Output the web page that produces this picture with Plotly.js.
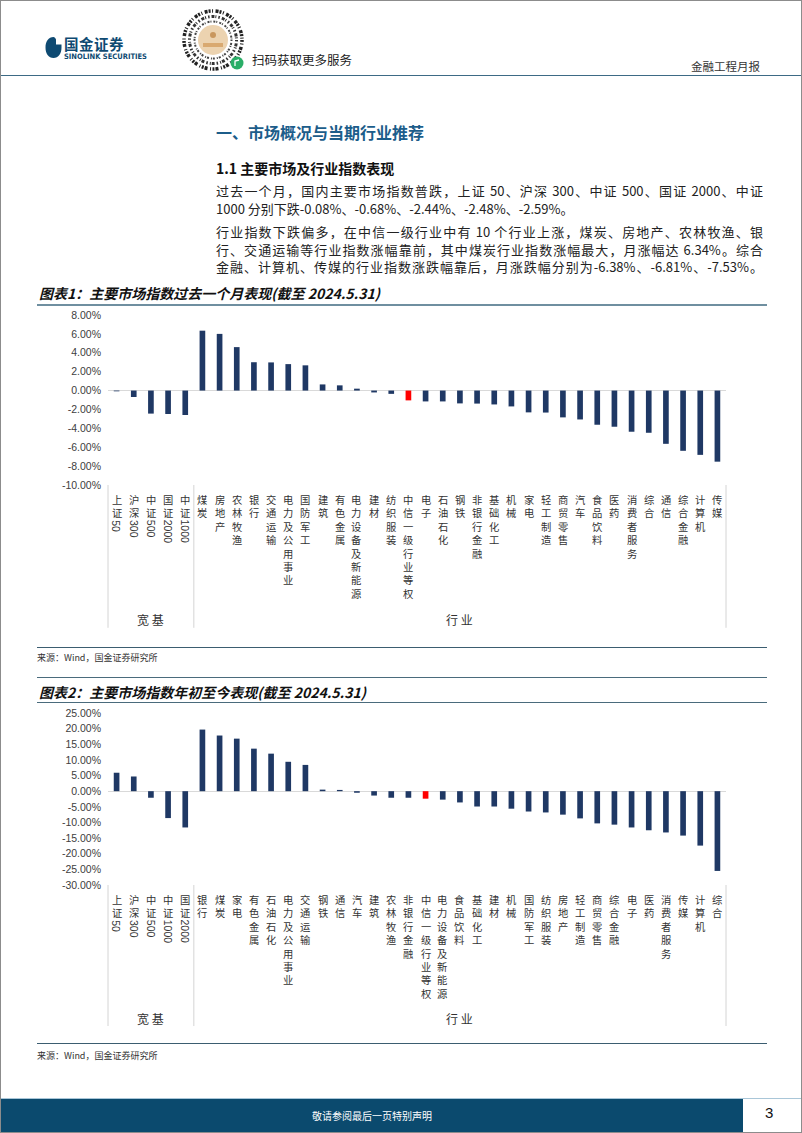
<!DOCTYPE html>
<html><head><meta charset="utf-8">
<script src="https://cdn.plot.ly/plotly-3.0.1.min.js"></script>
<style>
html,body{margin:0;padding:0;background:#fff;}
#page{position:relative;width:802px;height:1133px;box-sizing:border-box;border:1px solid #8c8c8c;overflow:hidden;font-family:"Noto Sans CJK SC","Noto Sans",sans-serif;color:#222;}
.abs{position:absolute;white-space:nowrap;}
.hl{position:absolute;height:0;}
.pline{position:absolute;left:215px;width:547px;font-size:13px;line-height:17px;height:17px;color:#222;white-space:nowrap;}
.just{text-align:justify;text-align-last:justify;}
.ctitle{position:absolute;left:38px;font-size:14px;font-weight:bold;font-style:italic;color:#111;white-space:nowrap;}
.src{position:absolute;left:36px;font-size:9px;color:#333;white-space:nowrap;}
.chart{position:absolute;left:0;width:802px;}
</style>
</head>
<body>
<div id="page">
  <!-- header -->
  <svg class="abs" style="left:44px;top:35px" width="17" height="23" viewBox="0 0 17 23">
    <path d="M8.5 1 C3.5 1 0.5 5.5 0.5 11.5 C0.5 17.5 3.5 22 8.5 22 C13.5 22 16.5 17.5 16.5 11.5 L16.5 8.5 L11 8.5 L11 3.5 C10.5 2 9.5 1 8.5 1Z" fill="#0e4a72"/>
  </svg>
  <div class="abs" style="left:63px;top:35px;font-size:14.5px;line-height:16px;font-weight:bold;color:#0e4a72;letter-spacing:0.5px;">国金证券</div>
  <div class="abs" style="left:63px;top:52px;font-size:7.5px;line-height:8px;font-weight:bold;color:#0e4a72;font-family:'DejaVu Sans Condensed','DejaVu Sans',sans-serif;">SINOLINK SECURITIES</div>
  <svg class="abs" style="left:180px;top:7px" width="64" height="64" viewBox="0 0 64 64">
    <circle cx="32" cy="32" r="29" fill="none" stroke="#222" stroke-width="3.5" stroke-dasharray="2 1.5 1 2.5 3 1"/>
    <circle cx="32" cy="32" r="23.5" fill="none" stroke="#333" stroke-width="3" stroke-dasharray="1.5 2 3 1 1 2"/>
    <circle cx="32" cy="32" r="18.5" fill="none" stroke="#444" stroke-width="2" stroke-dasharray="1 2 2 1"/>
    <circle cx="32" cy="32" r="15" fill="#ecd3b0"/>
    <circle cx="32" cy="27" r="3" fill="#c9975e"/>
    <rect x="22" y="35" width="20" height="4" fill="#d9a970"/>
    <circle cx="56" cy="55" r="6.5" fill="#2aae67"/>
    <path d="M54 58 L54 53 L58 52" stroke="#fff" stroke-width="1.3" fill="none"/>
  </svg>
  <div class="abs" style="left:251px;top:49px;font-size:12.5px;color:#222;">扫码获取更多服务</div>
  <div class="abs" style="left:690px;top:57px;font-size:11.5px;color:#333;">金融工程月报</div>
  <div class="hl" style="left:0;top:74px;width:802px;border-top:1.5px solid #3d6a85;"></div>

  <!-- section -->
  <div class="abs" style="left:215px;top:119px;font-size:16px;font-weight:bold;color:#1c5d8a;">一、市场概况与当期行业推荐</div>
  <div class="abs" style="left:215px;top:157px;font-size:14px;font-weight:bold;color:#111;">1.1 主要市场及行业指数表现</div>
  <div class="pline just" style="top:181px;">过去一个月，国内主要市场指数普跌，上证 50、沪深 300、中证 500、国证 2000、中证</div>
  <div class="pline" style="top:199px;">1000 分别下跌-0.08%、-0.68%、-2.44%、-2.48%、-2.59%。</div>
  <div class="pline just" style="top:222px;">行业指数下跌偏多，在中信一级行业中有 10 个行业上涨，煤炭、房地产、农林牧渔、银</div>
  <div class="pline just" style="top:240px;">行、交通运输等行业指数涨幅靠前，其中煤炭行业指数涨幅最大，月涨幅达 6.34%。综合</div>
  <div class="pline just" style="top:257px;">金融、计算机、传媒的行业指数涨跌幅靠后，月涨跌幅分别为-6.38%、-6.81%、-7.53%。</div>

  <!-- chart 1 -->
  <div class="ctitle" style="top:282px;">图表1：主要市场指数过去一个月表现(截至 2024.5.31)</div>
  <div class="hl" style="left:36px;top:303px;width:730px;border-top:2px solid #6f8fa0;"></div>
  <div id="chart1" class="chart" style="top:305px;height:335px;"></div>
  <div class="hl" style="left:36px;top:646px;width:730px;border-top:1.5px solid #3b5d70;"></div>
  <div class="src" style="top:650px;">来源：Wind，国金证券研究所</div>

  <!-- chart 2 -->
  <div class="hl" style="left:36px;top:676px;width:730px;border-top:1.5px solid #4a6b7c;"></div>
  <div class="ctitle" style="top:681px;">图表2：主要市场指数年初至今表现(截至 2024.5.31)</div>
  <div class="hl" style="left:36px;top:701px;width:730px;border-top:1.5px solid #4a6b7c;"></div>
  <div id="chart2" class="chart" style="top:704px;height:334px;"></div>
  <div class="hl" style="left:36px;top:1042px;width:730px;border-top:1.5px solid #3b5d70;"></div>
  <div class="src" style="top:1048px;">来源：Wind，国金证券研究所</div>

  <!-- footer -->
  <div class="abs" style="left:0;top:1097px;width:802px;height:0;border-top:1px solid #a9c6d8;"></div>
  <div class="abs" style="left:0;top:1098px;width:742px;height:33px;background:#0b4a6e;"></div>
  <div class="abs" style="left:0;top:1107px;width:742px;text-align:center;font-size:10px;color:#fff;">敬请参阅最后一页特别声明</div>
  <div class="abs" style="left:764px;top:1103px;font-size:15px;color:#111;font-family:'Liberation Sans',sans-serif;">3</div>
</div>

<script>
// ---------- data ----------
const broadCats1 = ["上证50","沪深300","中证500","国证2000","中证1000"];
const broadVals1 = [-0.08,-0.68,-2.44,-2.48,-2.59];
const indCats1 = ["煤炭","房地产","农林牧渔","银行","交通运输","电力及公用事业","国防军工","建筑","有色金属","电力设备及新能源","建材","纺织服装","中信一级行业等权","电子","石油石化","钢铁","非银行金融","基础化工","机械","家电","轻工制造","商贸零售","汽车","食品饮料","医药","消费者服务","综合","通信","综合金融","计算机","传媒"];
const indVals1 = [6.34,6.00,4.60,3.00,2.98,2.80,2.67,0.65,0.55,0.20,-0.20,-0.35,-1.04,-1.15,-1.15,-1.36,-1.38,-1.47,-1.68,-2.31,-2.33,-2.84,-3.06,-3.62,-3.83,-4.36,-4.47,-5.64,-6.38,-6.81,-7.53];
const yTicks1 = [8,6,4,2,0,-2,-4,-6,-8,-10];
const yTickText1 = ["8.00%","6.00%","4.00%","2.00%","0.00%","-2.00%","-4.00%","-6.00%","-8.00%","-10.00%"];

const broadCats2 = ["上证50","沪深300","中证500","中证1000","国证2000"];
const broadVals2 = [5.9,4.7,-2.1,-8.6,-11.6];
const indCats2 = ["银行","煤炭","家电","有色金属","石油石化","电力及公用事业","交通运输","钢铁","通信","汽车","建筑","农林牧渔","非银行金融","中信一级行业等权","电力设备及新能源","食品饮料","基础化工","建材","机械","国防军工","纺织服装","房地产","轻工制造","商贸零售","综合金融","电子","医药","消费者服务","传媒","计算机","综合"];
const indVals2 = [19.7,17.8,16.8,13.6,12.0,9.4,8.4,0.5,0.4,-0.5,-1.4,-2.1,-2.1,-2.4,-2.7,-3.6,-4.9,-4.9,-5.6,-6.5,-6.8,-7.5,-8.7,-10.3,-10.7,-11.6,-12.5,-13.2,-14.2,-17.4,-25.5];
const yTicks2 = [25,20,15,10,5,0,-5,-10,-15,-20,-25,-30];
const yTickText2 = ["25.00%","20.00%","15.00%","10.00%","5.00%","0.00%","-5.00%","-10.00%","-15.00%","-20.00%","-25.00%","-30.00%"];

const highlightCat = "中信一级行业等权";
const groupNames = ["宽 基","行 业"];

// ---------- drawing ----------
const CJK = '"Noto Sans CJK SC", sans-serif';
const LAT = '"Liberation Sans", Arial, sans-serif';
const FS = 10.3, LH = FS * 1.3;

function makeChart(id, bc, bv, ic, iv, ticks, tickText, yRange, mt, mb, groupShift, dividerEnd) {
  const cats = bc.concat(ic), vals = bv.concat(iv);
  const colors = cats.map(c => c === highlightCat ? '#ff0000' : '#1f3864');
  const trace = {type:'bar', x:cats, y:vals, width:0.33, marker:{color:colors, line:{width:0}}, hoverinfo:'skip'};
  const anns = [];
  cats.forEach(c => {
    const m = c.match(/^(\D+)(\d*)$/);
    const han = m[1], dig = m[2];
    anns.push({xref:'x', yref:'paper', x:c, y:0, xanchor:'center', yanchor:'top', yshift:-6,
      text: han.split('').join('<br>'), showarrow:false, borderpad:0,
      font:{family:CJK, size:FS, color:'#333'}});
    if (dig) anns.push({xref:'x', yref:'paper', x:c, y:0, xanchor:'center', yanchor:'top',
      yshift: -6 - han.length * LH - 1, text: dig, textangle:90, showarrow:false, borderpad:0,
      font:{family:LAT, size:10.5, color:'#333'}});
  });
  anns.push({xref:'x', yref:'paper', x:(bc.length-1)/2, y:0, yshift:groupShift, yanchor:'middle', xanchor:'center',
    text:groupNames[0], showarrow:false, font:{family:CJK, size:12, color:'#333'}});
  anns.push({xref:'x', yref:'paper', x:bc.length + (ic.length-1)/2, y:0, yshift:groupShift, yanchor:'middle', xanchor:'center',
    text:groupNames[1], showarrow:false, font:{family:CJK, size:12, color:'#333'}});
  const lineStyle = {color:'#d4d4d4', width:1};
  const shapes = [
    {type:'line', xref:'paper', yref:'paper', x0:0, x1:0, y0:0, y1:dividerEnd, line:lineStyle},
    {type:'line', xref:'x', yref:'paper', x0:bc.length-0.5, x1:bc.length-0.5, y0:0, y1:dividerEnd, line:lineStyle},
    {type:'line', xref:'paper', yref:'paper', x0:1, x1:1, y0:0, y1:dividerEnd, line:lineStyle}
  ];
  const layout = {
    width:802, height:document.getElementById(id).offsetHeight,
    margin:{l:107, r:77, t:mt, b:mb, autoexpand:false},
    paper_bgcolor:'rgba(0,0,0,0)', plot_bgcolor:'rgba(0,0,0,0)',
    showlegend:false, hovermode:false,
    xaxis:{type:'category', range:[-0.5, cats.length-0.5], showticklabels:false, showgrid:false, zeroline:false, showline:false, ticks:''},
    yaxis:{range:yRange, tickvals:ticks, ticktext:tickText, showgrid:false, showline:false, ticks:'',
      zeroline:true, zerolinecolor:'#d9d9d9', zerolinewidth:1, ticklabelstandoff:6,
      tickfont:{family:LAT, size:10.5, color:'#404040'}},
    annotations:anns, shapes:shapes
  };
  Plotly.newPlot(id, [trace], layout, {staticPlot:true, displayModeBar:false});
}

makeChart('chart1', broadCats1, broadVals1, indCats1, indVals1, yTicks1, yTickText1, [-10, 8], 9, 156, -134, -0.84);
makeChart('chart2', broadCats2, broadVals2, indCats2, indVals2, yTicks2, yTickText2, [-30, 25], 8, 154, -133, -0.82);
</script>
</body></html>
